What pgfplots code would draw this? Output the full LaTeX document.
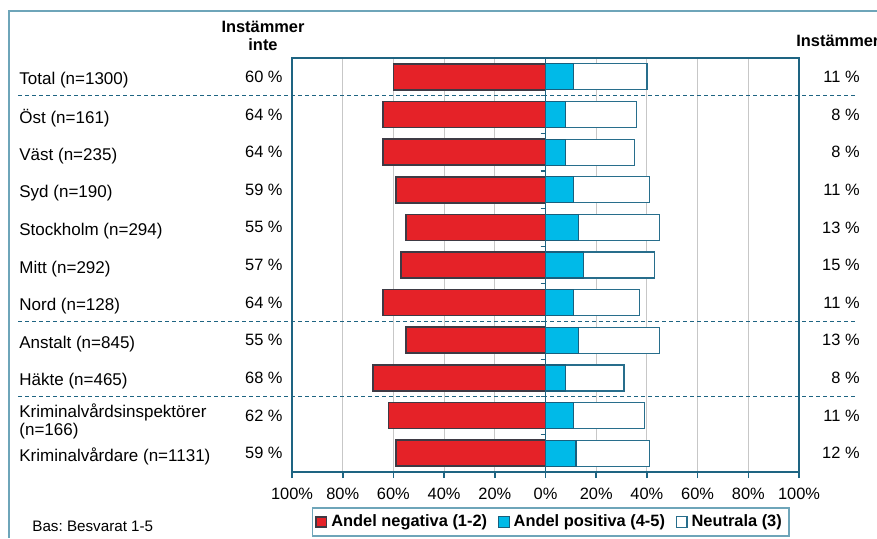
\documentclass[border=0pt]{standalone}
\usepackage{fontspec}
\setmainfont{Liberation Sans}
\usepackage{pgfplots}
\usepackage{pgfplotstable}
\pgfplotsset{compat=1.18}

\definecolor{negred}{RGB}{229,34,40}
\definecolor{negborder}{RGB}{62,58,68}
\definecolor{poscyan}{RGB}{0,186,232}
\definecolor{posborder}{RGB}{25,95,125}
\definecolor{neuborder}{RGB}{40,110,140}
\definecolor{axisteal}{RGB}{30,100,130}
\definecolor{frameteal}{RGB}{110,165,185}

\tikzset{
  catlab/.style={anchor=west, inner sep=0pt, xshift=-136.5pt, yshift=-1.8pt, align=left,
    font=\fontsize{8.5}{9}\selectfont},
  neglab/.style={anchor=east, inner sep=0pt, xshift=-4.5pt},
  poslab/.style={anchor=east, inner sep=0pt, xshift=30.5pt},
}

% idx: row from top; neg / pos / neu in percent
\pgfplotstableread{
idx neg pos neu
0   60  11  29
1   64  8   28
2   64  8   27
3   59  11  30
4   55  13  32
5   57  15  28
6   64  11  26
7   55  13  32
8   68  8   23
9   62  11  28
10  59  12  29
}\results

\begin{document}
\frenchspacing
\fontsize{8.2}{9.6}\selectfont
\begin{tikzpicture}
\begin{scope}[x=0.5pt,y=-0.5pt]
  \useasboundingbox (0,0) rectangle (877,538);
  \draw[frameteal, line width=1pt] (8.5,538) -- (8.5,11) -- (877,11);
  \node[font=\fontsize{8.2}{9}\selectfont\bfseries, align=center] at (263,36) {Instämmer\\inte};
  \node[font=\bfseries, anchor=west, inner sep=0pt] at (796,41) {Instämmer};
  \node[anchor=west, inner sep=0pt, font=\fontsize{7.6}{9}\selectfont] at (32,526) {Bas: Besvarat 1-5};
\end{scope}

\begin{axis}[
  at={(146pt,-236pt)}, anchor=south west,
  scale only axis, width=253.5pt, height=207pt,
  xbar, bar width=13pt, bar shift=0pt,
  xmin=-100, xmax=100, ymin=-0.5, ymax=10.5, y dir=reverse,
  xtick={-100,-80,...,100},
  xticklabels={100\%,80\%,60\%,40\%,20\%,0\%,20\%,40\%,60\%,80\%,100\%},
  ytick=\empty,
  xtick pos=left, tick align=outside, major tick length=3pt,
  xmajorgrids, grid style={black!22, line width=0.5pt},
  axis line style={axisteal, line width=1pt},
  tick style={axisteal, line width=0.8pt},
  xticklabel style={yshift=-2pt},
  clip=false,
  legend image code/.code={\draw[#1] (0pt,-2.6pt) rectangle (5.2pt,2.6pt);},
  reverse legend,
  legend columns=3,
  legend style={at={(axis cs:2,10.5)}, anchor=center, yshift=-25pt,
    draw=frameteal, line width=0.8pt, font=\bfseries,
    inner sep=1.5pt,
    /tikz/every even column/.append style={column sep=3.5pt}},
]
  \addplot[fill=white, draw=neuborder, line width=0.6pt]
    table[x expr=\thisrow{pos}+\thisrow{neu}, y=idx]{\results};
  \addlegendentry{Neutrala (3)}
  \addplot[fill=poscyan, draw=posborder, line width=0.6pt]
    table[x=pos, y=idx]{\results};
  \addlegendentry{Andel positiva (4-5)}
  \addplot[fill=negred, draw=negborder, line width=0.8pt]
    table[x expr=-\thisrow{neg}, y=idx]{\results};
  \addlegendentry{Andel negativa (1-2)}

  \draw[axisteal, line width=0.7pt] (axis cs:0,-0.5) -- (axis cs:0,10.5);
  \pgfplotsinvokeforeach{0.5,1.5,2.5,3.5,4.5,5.5,6.5,7.5,8.5,9.5}{
    \draw[axisteal, line width=0.6pt] (axis cs:-1.9,#1) -- (axis cs:0,#1);
  }
  \pgfplotsinvokeforeach{0.5,6.5,8.5}{
    \draw[axisteal, line width=0.5pt, dash pattern=on 2pt off 1.5pt]
      (axis cs:-208,#1) -- (axis cs:123.3,#1);
  }

  \node[catlab] at (axis cs:-100,0) {Total (n=1300)};
  \node[catlab] at (axis cs:-100,1) {Öst (n=161)};
  \node[catlab] at (axis cs:-100,2) {Väst (n=235)};
  \node[catlab] at (axis cs:-100,3) {Syd (n=190)};
  \node[catlab] at (axis cs:-100,4) {Stockholm (n=294)};
  \node[catlab] at (axis cs:-100,5) {Mitt (n=292)};
  \node[catlab] at (axis cs:-100,6) {Nord (n=128)};
  \node[catlab] at (axis cs:-100,7) {Anstalt (n=845)};
  \node[catlab] at (axis cs:-100,8) {Häkte (n=465)};
  \node[catlab, yshift=-1pt] at (axis cs:-100,9) {Kriminalvårdsinspektörer\\(n=166)};
  \node[catlab] at (axis cs:-100,10) {Kriminalvårdare (n=1131)};

  \node[neglab] at (axis cs:-100,0) {60 \%};
  \node[neglab] at (axis cs:-100,1) {64 \%};
  \node[neglab] at (axis cs:-100,2) {64 \%};
  \node[neglab] at (axis cs:-100,3) {59 \%};
  \node[neglab] at (axis cs:-100,4) {55 \%};
  \node[neglab] at (axis cs:-100,5) {57 \%};
  \node[neglab] at (axis cs:-100,6) {64 \%};
  \node[neglab] at (axis cs:-100,7) {55 \%};
  \node[neglab] at (axis cs:-100,8) {68 \%};
  \node[neglab] at (axis cs:-100,9) {62 \%};
  \node[neglab] at (axis cs:-100,10) {59 \%};

  \node[poslab] at (axis cs:100,0) {11 \%};
  \node[poslab] at (axis cs:100,1) {8 \%};
  \node[poslab] at (axis cs:100,2) {8 \%};
  \node[poslab] at (axis cs:100,3) {11 \%};
  \node[poslab] at (axis cs:100,4) {13 \%};
  \node[poslab] at (axis cs:100,5) {15 \%};
  \node[poslab] at (axis cs:100,6) {11 \%};
  \node[poslab] at (axis cs:100,7) {13 \%};
  \node[poslab] at (axis cs:100,8) {8 \%};
  \node[poslab] at (axis cs:100,9) {11 \%};
  \node[poslab] at (axis cs:100,10) {12 \%};
\end{axis}
\end{tikzpicture}
\end{document}
